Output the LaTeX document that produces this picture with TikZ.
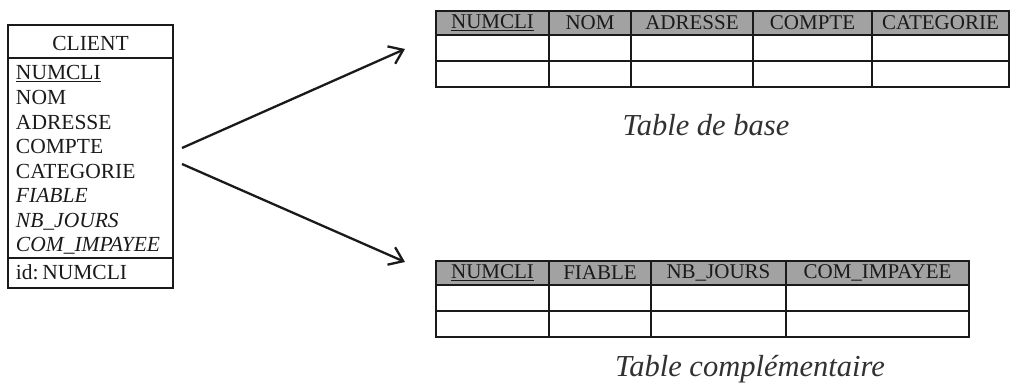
\documentclass[tikz,border=0pt]{standalone}
\usepackage{fontspec}
\setmainfont{Liberation Serif}
\usetikzlibrary{arrows.meta}
\definecolor{ink}{HTML}{1A1A1A}
\definecolor{hdrgray}{HTML}{A2A2A2}
\tikzset{
  txt/.style={inner sep=0pt, outer sep=0pt, text=ink, font=\fontsize{21.5}{24}\selectfont},
  attr/.style={txt, anchor=base west},
  hdr/.style={draw=ink, line width=1.6pt, fill=hdrgray, anchor=north west, inner sep=0pt, outer sep=0pt, minimum height=24pt, text=ink, font=\fontsize{21}{24}\selectfont},
  cell/.style={draw=ink, line width=1.6pt, fill=white, anchor=north west, inner sep=0pt, outer sep=0pt, minimum height=26pt},
  entbox/.style={draw=ink, line width=1.3pt},
  caption/.style={inner sep=0pt, anchor=base, text=ink!90, font=\fontsize{30.5}{32}\selectfont\itshape},
  link/.style={draw=ink, line width=2.3pt, -{Straight Barb[length=13pt, width=19pt, line width=2.3pt]}}
}
\begin{document}
\begin{tikzpicture}[x=1pt, y=-1pt]
\useasboundingbox (0,0) rectangle (1013,387);
% entity CLIENT
\node[entbox, anchor=north west, minimum width=165pt, minimum height=263pt, inner sep=0pt, outer sep=0pt] (client) at (8,25) {};
\draw[entbox] (8,58) coordinate (h1) -- (173,58) coordinate (h2);
\draw[entbox] (8,258) coordinate (g1) -- (173,258) coordinate (g2);
\node[txt, anchor=base] (cname) at (90.5,51) {CLIENT};
\foreach \t [count=\i from 0] in {{\underline{NUMCLI}},NOM,ADRESSE,COMPTE,CATEGORIE,{\itshape FIABLE},{\itshape NB\_JOURS},{\itshape COM\_IMPAYEE}} {
  \node[attr] (at\i) at (16,80+24.57*\i) {\t};
}
\node[attr] (idn) at (16,280) {id:\,NUMCLI};
% table de base
\foreach \x/\w/\t [count=\i] in {436/113/{\underline{NUMCLI}},549/82/NOM,631/122/ADRESSE,753/119/COMPTE,872/137/CATEGORIE} {
  \node[hdr, minimum width=\w pt] (b\i) at (\x,11) {\t};
  \node[cell, minimum width=\w pt] (b\i r1) at (\x,35) {};
  \node[cell, minimum width=\w pt] (b\i r2) at (\x,61) {};
}
\node[caption] (capb) at (706,136) {Table de base};
% table complementaire
\foreach \x/\w/\t [count=\i] in {436/113/{\underline{NUMCLI}},549/102/FIABLE,651/135/{NB\_JOURS},786/183/{COM\_IMPAYEE}} {
  \node[hdr, minimum width=\w pt] (c\i) at (\x,261) {\t};
  \node[cell, minimum width=\w pt] (c\i r1) at (\x,285) {};
  \node[cell, minimum width=\w pt] (c\i r2) at (\x,311) {};
}
\node[caption] (capc) at (750,377) {Table compl\'ementaire};
% arrows
\coordinate (s1) at (182,148);
\coordinate (e1) at (405,49);
\coordinate (s2) at (182,164);
\coordinate (e2) at (405,262);
\draw[link] (s1) -- (e1);
\draw[link] (s2) -- (e2);
\end{tikzpicture}
\end{document}
